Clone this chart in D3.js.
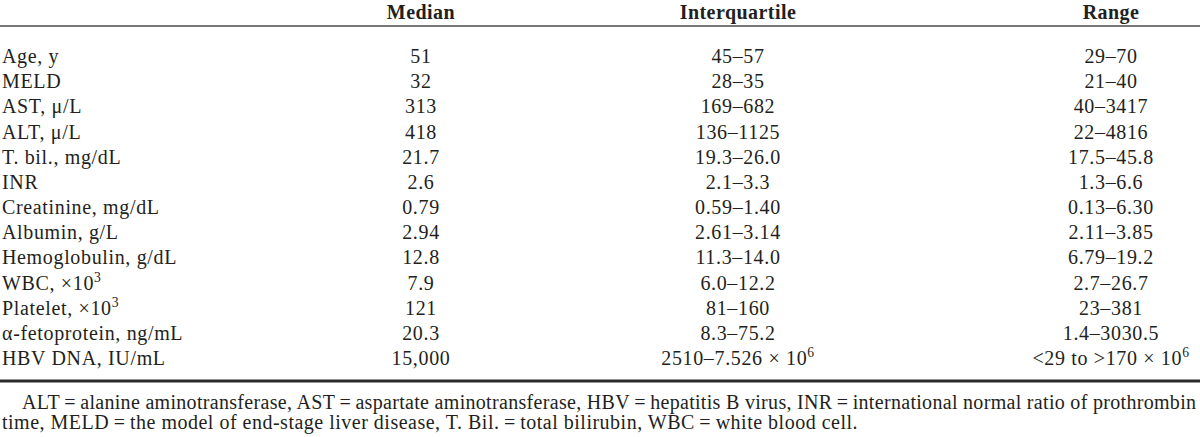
<!DOCTYPE html>
<html>
<head>
<meta charset="utf-8">
<script src="https://cdn.jsdelivr.net/npm/d3@7"></script>
<style>
  html, body { margin: 0; padding: 0; background: #fff; }
  svg { display: block; }
  text { font-family: "Liberation Serif", "Times New Roman", serif; fill: #231f20; }
</style>
</head>
<body>
<svg id="chart" width="1200" height="437"></svg>
<script>
// ---- data ----
const columns = ["Median", "Interquartile", "Range"];
const labels = [
  "Age, y", "MELD", "AST, \u03bc/L", "ALT, \u03bc/L", "T. bil., mg/dL", "INR",
  "Creatinine, mg/dL", "Albumin, g/L", "Hemoglobulin, g/dL", "WBC, \u00d710^3",
  "Platelet, \u00d710^3", "\u03b1-fetoprotein, ng/mL", "HBV DNA, IU/mL"
];
const medians = ["51", "32", "313", "418", "21.7", "2.6", "0.79", "2.94", "12.8", "7.9", "121", "20.3", "15,000"];
const interquartiles = [
  "45\u201357", "28\u201335", "169\u2013682", "136\u20131125", "19.3\u201326.0", "2.1\u20133.3",
  "0.59\u20131.40", "2.61\u20133.14", "11.3\u201314.0", "6.0\u201312.2", "81\u2013160",
  "8.3\u201375.2", "2510\u20137.526 \u00d7 10^6"
];
const ranges = [
  "29\u201370", "21\u201340", "40\u20133417", "22\u20134816", "17.5\u201345.8", "1.3\u20136.6",
  "0.13\u20136.30", "2.11\u20133.85", "6.79\u201319.2", "2.7\u201326.7", "23\u2013381",
  "1.4\u20133030.5", "<29 to >170 \u00d7 10^6"
];
const footnotes = [
  "ALT\u2009=\u2009alanine aminotransferase, AST\u2009=\u2009aspartate aminotransferase, HBV\u2009=\u2009hepatitis B virus, INR\u2009=\u2009international normal ratio of prothrombin",
  "time, MELD\u2009=\u2009the model of end-stage liver disease, T. Bil.\u2009=\u2009total bilirubin, WBC\u2009=\u2009white blood cell."
];

// ---- layout ----
const svg = d3.select("#chart");
const W = 1200;
const fontSize = 20;
const spacing = 0.65;

const x = d3.scaleOrdinal()
  .domain(["label"].concat(columns))
  .range([2, 421, 738, 1111]);

const y = d3.scalePoint()
  .domain(d3.range(labels.length))
  .range([63, 365]);

// render text with ^ superscripts
function richText(sel, str) {
  const parts = str.split("^");
  sel.append("tspan").text(parts[0]);
  if (parts.length > 1) {
    sel.append("tspan")
      .attr("dy", -8)
      .attr("font-size", fontSize * 0.68)
      .text(parts[1]);
  }
}

// header
svg.append("g").selectAll("text")
  .data(columns)
  .join("text")
  .attr("x", d => x(d))
  .attr("y", 18.5)
  .attr("text-anchor", "middle")
  .attr("font-size", fontSize)
  .attr("letter-spacing", 0.45)
  .attr("font-weight", "bold")
  .text(d => d);

// rules
svg.append("line")
  .attr("x1", 0).attr("x2", W)
  .attr("y1", 26).attr("y2", 26)
  .attr("stroke", "#4a4a4a").attr("stroke-width", 1.4);

svg.append("line")
  .attr("x1", 0).attr("x2", W)
  .attr("y1", 381).attr("y2", 381)
  .attr("stroke", "#2a2a2a").attr("stroke-width", 3);

// body
const rows = labels.map((l, i) => ({ label: l, Median: medians[i], Interquartile: interquartiles[i], Range: ranges[i], i }));

const body = svg.append("g");
rows.forEach(r => {
  body.append("text")
    .attr("x", x("label"))
    .attr("y", y(r.i))
    .attr("font-size", fontSize)
    .attr("letter-spacing", spacing)
    .call(richText, r.label);
  columns.forEach(c => {
    body.append("text")
      .attr("x", x(c))
      .attr("y", y(r.i))
      .attr("text-anchor", "middle")
      .attr("font-size", fontSize)
      .attr("letter-spacing", spacing)
      .call(richText, r[c]);
  });
});

// footnotes
svg.append("text")
  .attr("x", 22).attr("y", 409)
  .attr("font-size", fontSize)
  .attr("textLength", 1174)
  .attr("lengthAdjust", "spacing")
  .text(footnotes[0]);
svg.append("text")
  .attr("x", 2).attr("y", 429)
  .attr("font-size", fontSize)
  .attr("letter-spacing", 0.5)
  .text(footnotes[1]);
</script>
</body>
</html>
